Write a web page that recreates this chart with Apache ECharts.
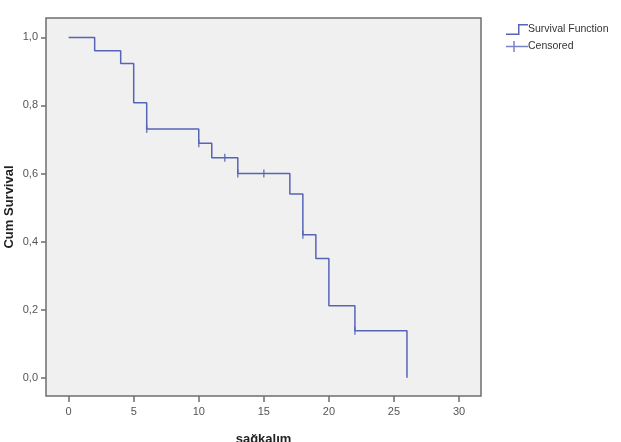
<!DOCTYPE html>
<html>
<head>
<meta charset="utf-8">
<script src="https://cdn.jsdelivr.net/npm/echarts@6/dist/echarts.min.js"></script>
<style>html,body{margin:0;padding:0;background:#fff}#c{width:621px;height:442px}</style>
</head>
<body>
<div id="c"></div>
<script>
// Kaplan-Meier step points (time, cumulative survival)
const times = [0, 2, 4, 5, 6, 10, 11, 13, 17, 18, 19, 20, 22, 26];
const survival = [1.0, 0.961, 0.923, 0.808, 0.731, 0.689, 0.646, 0.600, 0.540, 0.420, 0.350, 0.211, 0.138, 0.0];
// Censored observations
const censoredTimes = [6, 10, 12, 13, 15, 18, 22];
const censoredSurvival = [0.731, 0.689, 0.646, 0.600, 0.600, 0.420, 0.138];
// Tick labels
const xTicks = [0, 5, 10, 15, 20, 25, 30];
const yTicks = [0, 0.2, 0.4, 0.6, 0.8, 1.0];

const lineColor = '#5664B8';
const font = 'Liberation Sans, Arial, sans-serif';

const chart = echarts.init(document.getElementById('c'), null, {renderer: 'canvas'});
chart.setOption({
  animation: false,
  backgroundColor: '#ffffff',
  grid: {
    left: 46, top: 18, right: 140, bottom: 46,
    outerBoundsMode: 'none', containLabel: false,
    show: true, backgroundColor: '#F0F0F0', borderColor: '#6E6E6E', borderWidth: 1.5
  },
  legend: {
    left: 501, top: 19, orient: 'vertical', itemGap: 6,
    itemWidth: 22, itemHeight: 11,
    textStyle: {fontFamily: font, fontSize: 10.5, color: '#333', padding: [0, 0, 0, -5]},
    data: [
      {name: 'Survival Function', icon: 'path://M0,9.5 H12 V0 H22 V1.5 H13.5 V11 H0 Z'},
      {name: 'Censored', icon: 'path://M0,4.75 H22 V6.25 H0 Z M7.25,0 H8.75 V11 H7.25 Z'}
    ]
  },
  xAxis: {
    type: 'value', min: -1.74, max: 31.69,
    name: 'sağkalım', nameLocation: 'middle', nameGap: 37, nameMoveOverlap: false,
    nameTextStyle: {fontFamily: font, fontSize: 13, fontWeight: 'bold', color: '#222'},
    axisLine: {show: false, onZero: false},
    splitLine: {show: false},
    axisTick: {show: true, length: 6, lineStyle: {color: '#6E6E6E', width: 1.5}, customValues: xTicks},
    axisLabel: {fontFamily: font, fontSize: 11, color: '#555', margin: 10, customValues: xTicks}
  },
  yAxis: {
    type: 'value', min: -0.054, max: 1.057,
    name: 'Cum Survival', nameLocation: 'middle', nameGap: 30, nameRotate: 90, nameMoveOverlap: false,
    nameTextStyle: {fontFamily: font, fontSize: 13, fontWeight: 'bold', color: '#222'},
    axisLine: {show: false, onZero: false},
    splitLine: {show: false},
    axisTick: {show: true, length: 5, lineStyle: {color: '#6E6E6E', width: 1.5}, customValues: yTicks},
    axisLabel: {fontFamily: font, fontSize: 11, color: '#555', margin: 8, customValues: yTicks,
      formatter: v => v.toFixed(1).replace('.', ',')}
  },
  series: [
    {
      name: 'Survival Function', type: 'line', step: 'end',
      data: times.map((t, i) => [t, survival[i]]),
      showSymbol: false, symbol: 'none',
      lineStyle: {color: lineColor, width: 1.5},
      itemStyle: {color: lineColor}
    },
    {
      name: 'Censored', type: 'scatter',
      data: censoredTimes.map((t, i) => [t, censoredSurvival[i]]),
      symbol: 'rect', symbolSize: [1.5, 8],
      itemStyle: {color: lineColor}
    }
  ]
});
</script>
</body>
</html>
